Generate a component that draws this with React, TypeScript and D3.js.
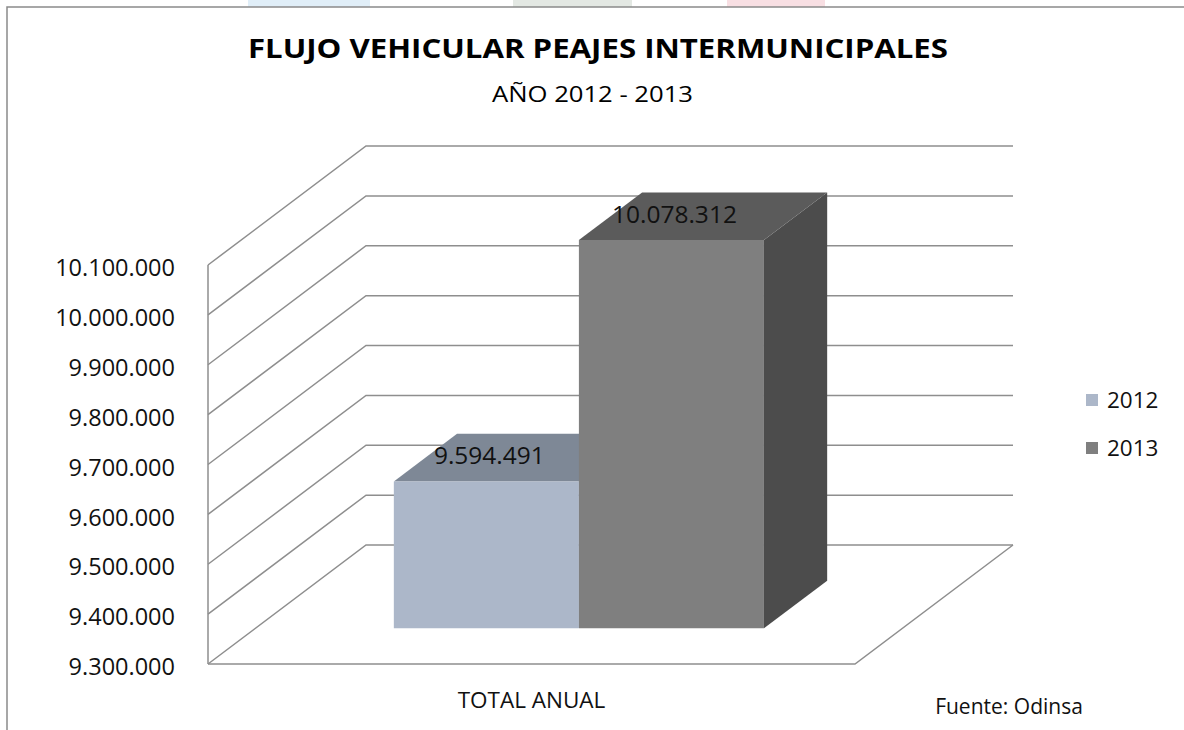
import React from 'react';
import * as d3 from 'd3';

// chart data
const categories = ['TOTAL ANUAL'];
const seriesNames = ['2012', '2013'];
const seriesValues = [9594491, 10078312];
const yDomain = [9300000, 10100000];
const tickStep = 100000;

const frontColors = ['#acb7c9', '#7f7f7f'];
const topColors = ['#7e8896', '#5b5b5b'];
const sideColors = ['#6f7886', '#4c4c4c'];

const fmt = d3.formatLocale({ decimal: ',', thousands: '.', grouping: [3], currency: ['', ''] }).format(',d');

const W = 1184;
const H = 730;
// front wall of the 3D box and depth offset
const x0 = 208;
const x1 = 855;
const DX = 158;
const DY = -119;
const barD0 = 0.3;
const barD1 = 0.7;

const font = '"Open Sans", "Liberation Sans", sans-serif';
const gridColor = '#8e8e8e';
const textColor = '#111';

export default function App() {
  const y = d3.scaleLinear().domain(yDomain).range([664, 265]);
  const ticks = d3.range(yDomain[0], yDomain[1] + 1, tickStep);

  const xCat = d3.scaleBand<string>().domain(categories).range([x0, x1]).paddingOuter(0.374).paddingInner(0);
  const xSer = d3.scaleBand<string>().domain(seriesNames).range([0, xCat.bandwidth()]).padding(0);

  // project a point from (x on the front wall, value, depth 0..1) onto the screen
  const proj = (x: number, v: number, d: number): [number, number] => [x + d * DX, y(v) + d * DY];
  const pts = (arr: [number, number][]) => arr.map(p => p.join(',')).join(' ');

  const base = yDomain[0];

  return (
    <svg width={W} height={H} style={{ position: 'fixed', left: 0, top: 0, background: '#fff' }}>
      {/* faint banner colours above the frame */}
      <rect x={248} y={0} width={122} height={7} fill="#e0eef8" />
      <rect x={513} y={0} width={119} height={7} fill="#e3e8e3" />
      <rect x={727} y={0} width={98} height={7} fill="#f8dfe3" />
      <path d={`M7,${H} V7 H${W}`} fill="none" stroke="#8a8a8a" strokeWidth={1.5} />

      <text x={598} y={58} textAnchor="middle" fontFamily={font} fontWeight="bold" fontSize={26}
        textLength={700} lengthAdjust="spacingAndGlyphs" fill="#000">FLUJO VEHICULAR PEAJES INTERMUNICIPALES</text>
      <text x={592.5} y={102} textAnchor="middle" fontFamily={font} fontSize={22}
        textLength={201} lengthAdjust="spacingAndGlyphs" fill="#000">AÑO 2012 - 2013</text>

      {/* walls: back gridlines and side wall diagonals */}
      {ticks.map(t => {
        const a = proj(x0, t, 0);
        const b = proj(x0, t, 1);
        const c = proj(x1, t, 1);
        return (
          <polyline key={t} points={pts([a, b, c])} fill="none" stroke={gridColor} strokeWidth={1.5} />
        );
      })}
      <line x1={x0} y1={y(yDomain[0])} x2={x0} y2={y(yDomain[1])} stroke={gridColor} strokeWidth={1.5} />
      <polyline points={pts([proj(x0, base, 0), proj(x1, base, 0), proj(x1, base, 1)])}
        fill="none" stroke={gridColor} strokeWidth={1.5} />

      {/* y axis labels */}
      {ticks.map(t => (
        <text key={'l' + t} x={175} y={y(t) + 3} dy="0.35em" textAnchor="end" fontFamily={font} fontSize={23.5}
          fill={textColor}>{fmt(t)}</text>
      ))}

      {/* bars */}
      {seriesNames.map((s, i) => {
        const bx0 = xCat(categories[0])! + xSer(s)!;
        const bx1 = bx0 + xSer.bandwidth();
        const v = seriesValues[i];
        const front = [proj(bx0, base, barD0), proj(bx1, base, barD0), proj(bx1, v, barD0), proj(bx0, v, barD0)];
        const top = [proj(bx0, v, barD0), proj(bx1, v, barD0), proj(bx1, v, barD1), proj(bx0, v, barD1)];
        const side = [proj(bx1, base, barD0), proj(bx1, base, barD1), proj(bx1, v, barD1), proj(bx1, v, barD0)];
        const ft = proj(bx0, v, barD0);
        return (
          <g key={s}>
            <polygon points={pts(side)} fill={sideColors[i]} />
            <polygon points={pts(top)} fill={topColors[i]} />
            <polygon points={pts(front)} fill={frontColors[i]} />
            <text x={(bx0 + bx1) / 2 + barD0 * DX + 3} y={ft[1] - 26} dy="0.35em" textAnchor="middle"
              fontFamily={font} fontSize={24.5} fill={textColor}>{fmt(v)}</text>
          </g>
        );
      })}

      {/* category label */}
      <text x={xCat(categories[0])! + xCat.bandwidth() / 2} y={700} dy="0.35em" textAnchor="middle"
        fontFamily={font} fontSize={22.5} fill={textColor}>{categories[0]}</text>

      {/* legend */}
      {seriesNames.map((s, i) => (
        <g key={'lg' + s} transform={`translate(1086,${394 + i * 48})`}>
          <rect width={12} height={12} fill={frontColors[i]} />
          <text x={21} y={6} dy="0.35em" fontFamily={font} fontSize={22.5} fill={textColor}>{s}</text>
        </g>
      ))}

      <text x={1009} y={707} dy="0.35em" textAnchor="middle" fontFamily={font} fontSize={21} fill={textColor}>Fuente: Odinsa</text>
    </svg>
  );
}
